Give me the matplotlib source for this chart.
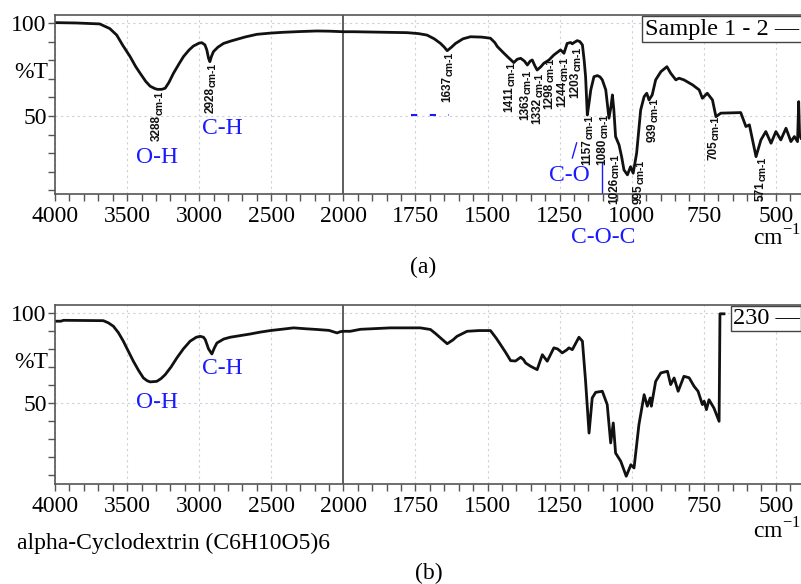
import numpy as np
import matplotlib
matplotlib.use("Agg")
import matplotlib.pyplot as plt
from matplotlib import font_manager

plt.rcParams['font.family'] = ['Liberation Serif', 'DejaVu Serif']

# spectrum (a): Sample 1 - 2, wavenumber (cm-1) / %T
wn_a = [4000, 3850, 3690, 3620, 3572, 3530, 3479, 3440, 3410, 3370, 3340, 3310, 3290, 3260,
        3236, 3210, 3178, 3140, 3109, 3070, 3040, 3000, 2981, 2960, 2947, 2935, 2926, 2915,
        2901, 2870, 2831, 2780, 2738, 2680, 2600, 2500, 2415, 2300, 2183, 2100, 2000, 1964,
        1880, 1779, 1740, 1710, 1685, 1663, 1650, 1640, 1625, 1611, 1585, 1559, 1520, 1490,
        1475, 1466, 1443, 1425, 1409, 1397, 1385, 1372, 1362, 1352, 1345, 1336, 1328, 1315,
        1305, 1287, 1270, 1247, 1240, 1235, 1224, 1212, 1206, 1200, 1189, 1180, 1171, 1165,
        1160, 1154, 1148, 1142, 1131, 1119, 1110, 1102, 1090, 1079, 1072, 1067, 1062, 1056,
        1044, 1035, 1027, 1015, 1004, 995, 983, 969, 957, 948, 940, 929, 917, 899, 878, 865,
        847, 836, 819, 789, 766, 755, 738, 720, 708, 691, 622, 604, 592, 569, 552, 535, 517,
        500, 483, 465, 448, 436, 425, 421, 418, 413]
t_a = [100.2, 100, 99.5, 97, 93.5, 88, 81.9, 76.5, 73, 68.5, 66, 64.8, 64.3, 64.3,
       64.9, 68, 73, 78, 81.9, 85.5, 87.6, 89.2, 89.4, 88.2, 85.5, 81, 79.2, 82,
       84.6, 87, 89, 90.3, 91.2, 92.5, 93.9, 94.6, 95, 95.4, 95.7, 95.6, 95.3, 95.3,
       95.1, 94.8, 94.3, 93.5, 91.5, 89, 87, 85.1, 87, 89, 91.5, 92.6, 92.4, 91.8,
       89.5, 87.3, 83.7, 81, 78.7, 80.5, 81, 79.5, 77.4, 79.5, 80.1, 77, 74.7, 76.5,
       78.3, 80.1, 82.8, 85.5, 84.5, 83.7, 89, 89.5, 88.8, 89.5, 90.5, 90, 88.2, 80,
       71.1, 50.5, 57, 64, 71.1, 71.7, 71, 69.4, 64, 48.8, 55, 61.3, 53.2, 38.9,
       34.4, 28, 21, 18.3, 22.7, 19.2, 30, 53.2, 60.4, 62.2, 58.6, 61.3, 69.4, 73.8, 76.5, 73,
       69.4, 70.3, 69.4, 66.7, 64, 59.5, 62.2, 58.6, 49.6, 51.5, 51.8, 44.3, 45.2, 28.1, 37.1, 41.6, 35.3,
       41.6, 37.1, 43.4, 36.2, 38.9, 36.2, 57.7, 40, 38]

# spectrum (b): alpha-Cyclodextrin
wn_b = [4000, 3960, 3940, 3800, 3665, 3630, 3595, 3560, 3526, 3490, 3456, 3420, 3387, 3360,
        3340, 3294, 3265, 3236, 3195, 3155, 3110, 3063, 3020, 2993, 2970, 2958, 2935, 2912,
        2895, 2877, 2830, 2785, 2700, 2646, 2580, 2507, 2420, 2345, 2260, 2183, 2100, 2044,
        2020, 2000, 1976, 1941, 1837, 1733, 1698, 1680, 1663, 1640, 1620, 1606, 1571, 1530,
        1490, 1470, 1455, 1437, 1420, 1403, 1385, 1375, 1368, 1351, 1328, 1310, 1293, 1270,
        1257, 1241, 1225, 1218, 1206, 1183, 1171, 1160, 1148, 1137, 1125, 1102, 1085, 1073,
        1064, 1056, 1038, 1019, 1003, 992, 975, 957, 946, 936, 932, 917, 899, 876, 865, 853,
        839, 819, 801, 784, 770, 755, 749, 741, 732, 715, 697, 694, 680]
t_b = [95.4, 95.4, 95.9, 95.8, 95.7, 94.5, 92.6, 89, 84.3, 78.5, 73.1, 68, 63.9, 62.3,
       61.7, 62, 63.5, 65.7, 70, 75, 80, 84.3, 86.5, 87, 86.5, 85.2, 80, 77.2,
       80.5, 83.3, 85.5, 86.5, 87.6, 88.3, 89.3, 90.2, 91, 91.7, 91.2, 90.8, 90.3, 88.9,
       89.6, 89.8, 89.8, 90.9, 91.7, 91.7, 90.8, 88.5, 86.1, 82.9, 85, 87, 89.8, 90.2,
       90.2, 86, 82.4, 78, 73.5, 73.3, 75.4, 74, 72.2, 70.4, 68.5, 76.8, 73.2, 80.6,
       80, 77.8, 79.5, 80.6, 79.6, 86.5, 84.3, 62, 33.3, 52.8, 55.9, 56.5, 49.1, 27.8,
       38.9, 22.2, 17.6, 9.3, 15.7, 13.9, 38, 54.6, 48.2, 52.8, 48.2, 62, 66.7, 67.6, 60.2, 63.9,
       56.5, 64.8, 64, 59.3, 56.5, 49.1, 51, 46.3, 51.8, 47.2, 39.8, 99.5, 99.5]

# peak labels in (a): label, wavenumber, %T at the top of the text
peak_lbl = ['3288', '2928', '1637', '1411', '1363', '1332', '1298', '1244', '1203',
            '1157', '1080', '1026', '995', '939', '705', '571']
peak_wn = [3292, 2924, 1640, 1425, 1368, 1327, 1287, 1241, 1195,
           1154, 1102, 1062, 975, 929, 715, 552]
peak_t = [63.5, 78.5, 84.4, 79, 74.7, 73, 81, 81.7, 87,
          50.5, 51, 29.5, 26.5, 59.5, 50, 28]

xticks = [4000, 3500, 3000, 2500, 2000, 1750, 1500, 1250, 1000, 750, 500]

names = {f.name for f in font_manager.fontManager.ttflist}
if 'Liberation Sans Narrow' in names:
    pk_font, pk_size, cm_size, cm_len = 'Liberation Sans Narrow', 10, 9, 17.5
else:
    pk_font, pk_size, cm_size, cm_len = 'Liberation Sans', 8.5, 7.5, 17.5


def fwd(w):
    w = np.asarray(w, float)
    return np.where(w >= 2000, w, 2 * w - 2000)


def inv(u):
    u = np.asarray(u, float)
    return np.where(u >= 2000, u, (u + 2000) / 2)


fig = plt.figure(figsize=(8.01, 5.84), dpi=100)
W, H = 801.0, 584.0
ax1 = fig.add_axes([55 / W, 1 - 194 / H, 746 / W, 179 / H])
ax2 = fig.add_axes([55 / W, 1 - 484 / H, 746 / W, 179 / H])

for ax, ylim in ((ax1, (8, 104.3)), (ax2, (5, 104.4))):
    ax.set_xscale('function', functions=(fwd, inv))
    ax.set_xlim(4000, 413)
    ax.set_ylim(*ylim)
    ax.set_xticks(xticks)
    ax.set_xticklabels([str(v) for v in xticks])
    ax.set_xticks(list(range(4000, 2000, -100)) + list(range(2000, 400, -50)), minor=True)
    ax.set_yticks([100, 50])
    ax.set_yticklabels(['100', '50'])
    ax.set_yticks(range(10, 100, 10), minor=True)
    ax.tick_params(which='both', direction='out', length=5, width=1, color='#555',
                   labelsize=17, pad=1)
    ax.tick_params(axis='x', pad=4)
    for side in ('left', 'bottom', 'top'):
        ax.spines[side].set_color('#555')
        ax.spines[side].set_linewidth(1.2)
    ax.spines['right'].set_visible(False)
    for v in xticks:
        if v != 2000:
            ax.axvline(v, color='#c8d2dc', lw=0.8, ls=(0, (2, 3)), zorder=0)
    for v in (100, 50):
        ax.axhline(v, color='#c8d2dc', lw=0.8, ls=(0, (2, 3)), zorder=0)
    ax.axvline(2000, color='#333', lw=1.1, zorder=1)
    ax.text(-0.032, 0.68, '%T', transform=ax.transAxes,
            ha='center', va='center', fontsize=17)

ax1.text(0.999, -0.29, r'cm$^{\mathregular{-1}}$', transform=ax1.transAxes, ha='right',
         va='baseline', fontsize=17)
ax2.text(0.999, -0.305, r'cm$^{\mathregular{-1}}$', transform=ax2.transAxes, ha='right',
         va='baseline', fontsize=17)

ax1.plot(wn_a, t_a, color='#111', lw=2)
ax2.plot(wn_b, t_b, color='#111', lw=2)

for lbl, w, t in zip(peak_lbl, peak_wn, peak_t):
    ax1.annotate('cm-1', xy=(w, t), xytext=(1.5, 0), textcoords='offset points',
                 rotation=90, ha='center', va='top', fontsize=cm_size, fontweight='bold',
                 family=pk_font, color='#111')
    ax1.annotate(lbl, xy=(w, t), xytext=(0, -cm_len), textcoords='offset points',
                 rotation=90, ha='center', va='top', fontsize=pk_size, fontweight='bold',
                 family=pk_font, color='#111')

blue = '#1a1aff'
ax1.text(3290, 27.4, 'O-H', color=blue, fontsize=17, ha='center', va='center')
ax1.text(2840, 43.5, 'C-H', color=blue, fontsize=17, ha='center', va='center')
ax1.text(1215, 17.7, 'C-O', color=blue, fontsize=17, ha='center', va='center')
ax1.text(1100, -15.6, 'C-O-C', color=blue, fontsize=17, ha='center', va='center', clip_on=False)
ax1.plot([1206, 1191], [27.4, 35.5], color=blue, lw=1)
ax1.plot([1102, 1102], [8, 24.7], color=blue, lw=1)
ax1.plot([1765, 1635], [50.7, 50.7], color=blue, lw=1.5, ls=(0, (3, 6)))

ax2.text(3290, 50, 'O-H', color=blue, fontsize=17, ha='center', va='center')
ax2.text(2840, 69.4, 'C-H', color=blue, fontsize=17, ha='center', va='center')

ax1.text(0.998, 0.98, u'Sample 1 - 2 \u2014', transform=ax1.transAxes, ha='right', va='top',
         fontsize=17.5, bbox=dict(boxstyle='square,pad=0.12', fc='white', ec='#444', lw=1))
ax2.text(0.998, 0.985, u'230 \u2014', transform=ax2.transAxes, ha='right', va='top',
         fontsize=17.5, bbox=dict(boxstyle='square,pad=0.08', fc='white', ec='#444', lw=1))

fig.text(423 / W, 1 - 267 / H, '(a)', ha='center', va='center', fontsize=17)
fig.text(429 / W, 1 - 573 / H, '(b)', ha='center', va='center', fontsize=17)
fig.text(17 / W, 1 - 543 / H, 'alpha-Cyclodextrin (C6H10O5)6', ha='left', va='center', fontsize=17)

fig.savefig('out.png', dpi=100)
